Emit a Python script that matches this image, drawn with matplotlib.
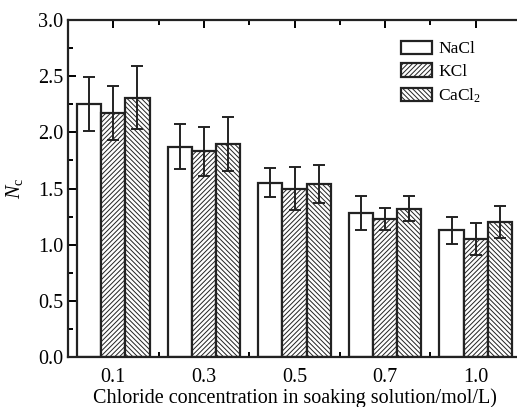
import numpy as np
import matplotlib
matplotlib.use('Agg')
import matplotlib.pyplot as plt
from matplotlib.ticker import MultipleLocator

# data
concs = ['0.1', '0.3', '0.5', '0.7', '1.0']
salts = ['NaCl', 'KCl', 'CaCl$_2$']
nacl = [2.25, 1.87, 1.55, 1.28, 1.13]
kcl = [2.17, 1.83, 1.50, 1.23, 1.05]
cacl2 = [2.31, 1.90, 1.54, 1.32, 1.20]
nacl_err = [0.24, 0.20, 0.13, 0.15, 0.12]
kcl_err = [0.24, 0.22, 0.19, 0.10, 0.14]
cacl2_err = [0.28, 0.24, 0.17, 0.11, 0.14]

plt.rcParams['font.family'] = ['Liberation Serif', 'DejaVu Serif']
plt.rcParams['mathtext.fontset'] = 'custom'
plt.rcParams['mathtext.rm'] = 'Liberation Serif'
plt.rcParams['mathtext.it'] = 'Liberation Serif:italic'
plt.rcParams['hatch.linewidth'] = 0.7

fig = plt.figure(figsize=(5.17, 4.07), dpi=100)
ax = fig.add_axes([68/517, 1-357/407, (521-68)/517, (357-20)/407])

x = np.arange(len(concs))
w = 0.267
series = [(nacl, nacl_err, ''), (kcl, kcl_err, '///////'), (cacl2, cacl2_err, '\\\\\\\\\\\\\\')]
for i, (vals, errs, hatch) in enumerate(series):
    ax.bar(x + (i-1)*w, vals, w, color='white', edgecolor='#222222', linewidth=1.6,
           hatch=hatch, label=salts[i], zorder=2)
    ax.errorbar(x + (i-1)*w, vals, yerr=errs, fmt='none', ecolor='#222222',
                elinewidth=1.4, capsize=4, capthick=1.4, zorder=3)

ax.set_xlim(-0.5, 4.5)
ax.set_ylim(0, 3.0)
ax.set_xticks(x)
ax.set_xticklabels(concs)
ax.xaxis.set_minor_locator(MultipleLocator(0.5))
ax.yaxis.set_major_locator(MultipleLocator(0.5))
ax.yaxis.set_minor_locator(MultipleLocator(0.25))
ax.tick_params(which='both', direction='in', top=True, right=False, labelsize=14.5, width=1.4)
ax.tick_params(which='major', length=6)
ax.tick_params(which='minor', length=3.5)
ax.tick_params(axis='x', pad=8)
for s in ax.spines.values():
    s.set_linewidth(1.6)
    s.set_color('#222222')

ax.set_xlabel('Chloride concentration in soaking solution/mol/L)', fontsize=14.5, labelpad=1)
ax.set_ylabel('$N_\\mathrm{c}$', fontsize=14.5, labelpad=9)

ax.legend(loc='upper left', bbox_to_anchor=(0.70, 0.985), frameon=False, fontsize=12.5,
          handlelength=1.8, handleheight=0.8, handletextpad=0.35, labelspacing=0.35)

fig.savefig('out.png', dpi=100)
